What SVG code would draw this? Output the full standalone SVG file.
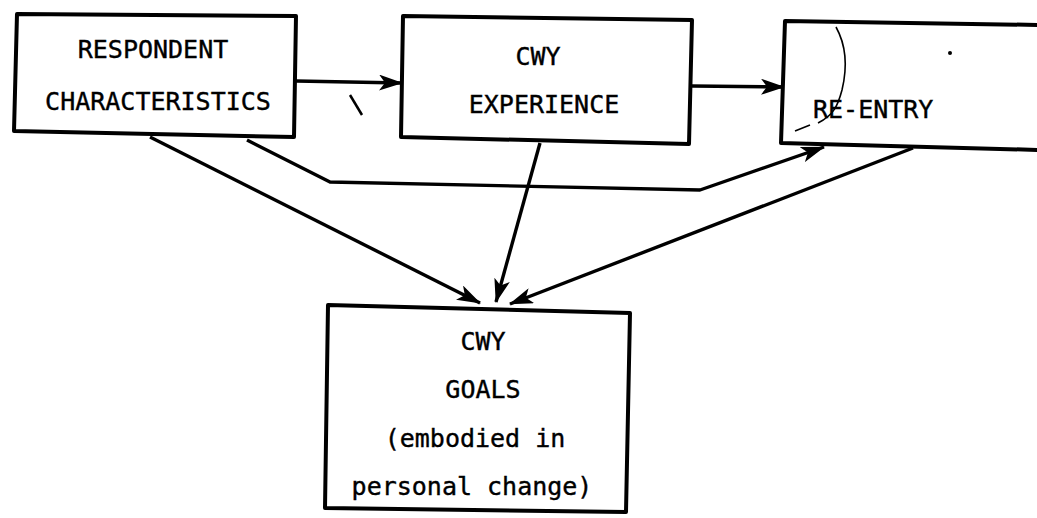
<svg xmlns="http://www.w3.org/2000/svg" width="1037" height="518" viewBox="0 0 1037 518">
<style>
.box{fill:#fff;stroke:#000;stroke-width:4;stroke-linejoin:round}
.t{font-family:"DejaVu Sans Mono","Liberation Mono",monospace;font-size:25px;fill:#000;stroke:#000;stroke-width:0.4}
.c{fill:none;stroke:#000;stroke-width:3.4;stroke-linejoin:round}
</style>
<defs>
<marker id="ah" viewBox="0 0 24 16" refX="23" refY="8" markerWidth="24" markerHeight="16" markerUnits="userSpaceOnUse" orient="auto">
<path d="M0,0 L24,8 L0,16 L6,8 z" fill="#000"/>
</marker>
</defs>
<rect width="1037" height="518" fill="#fff"/>
<g id="connectors">
<path class="c" d="M296,81 L402,83" marker-end="url(#ah)"/>
<path class="c" d="M692,86 L784,87" marker-end="url(#ah)"/>
<path class="c" d="M150,137 L480,303" marker-end="url(#ah)"/>
<path class="c" d="M247,140 L330,182 L700,190 L824,147" marker-end="url(#ah)"/>
<path class="c" d="M540,143 L496,302" marker-end="url(#ah)"/>
<path class="c" d="M913,148 L510,304" marker-end="url(#ah)"/>
</g>
<g id="respondent">
<path class="box" d="M17,14 L296,16 L294,137 L14,131 z"/>
<text class="t" x="153" y="58" text-anchor="middle">RESPONDENT</text>
<text class="t" x="158" y="110" text-anchor="middle">CHARACTERISTICS</text>
</g>
<g id="experience">
<path class="box" d="M403,16 L692,20 L689,144 L401,137 z"/>
<text class="t" x="538" y="65" text-anchor="middle">CWY</text>
<text class="t" x="544" y="113" text-anchor="middle">EXPERIENCE</text>
</g>
<g id="reentry">
<path class="box" d="M1040,25 L785,21 L781,143 L1040,150"/>
<text class="t" x="813" y="118">RE-ENTRY</text>
<path d="M836,27 C846,45 848,65 842,90 C838,105 834,115 818,123 M810,125 L795,131" fill="none" stroke="#000" stroke-width="1.6"/>
<circle cx="950" cy="53" r="2" fill="#000"/>
</g>
<g id="goals">
<path class="box" d="M328,305 L630,313 L626,512 L325,508 z"/>
<text class="t" x="483" y="350" text-anchor="middle">CWY</text>
<text class="t" x="483" y="398" text-anchor="middle">GOALS</text>
<text class="t" x="475" y="447" text-anchor="middle">(embodied in</text>
<text class="t" x="472" y="495" text-anchor="middle">personal change)</text>
</g>
<path d="M350,95 L362,115" stroke="#000" stroke-width="2.5" fill="none"/>
</svg>
